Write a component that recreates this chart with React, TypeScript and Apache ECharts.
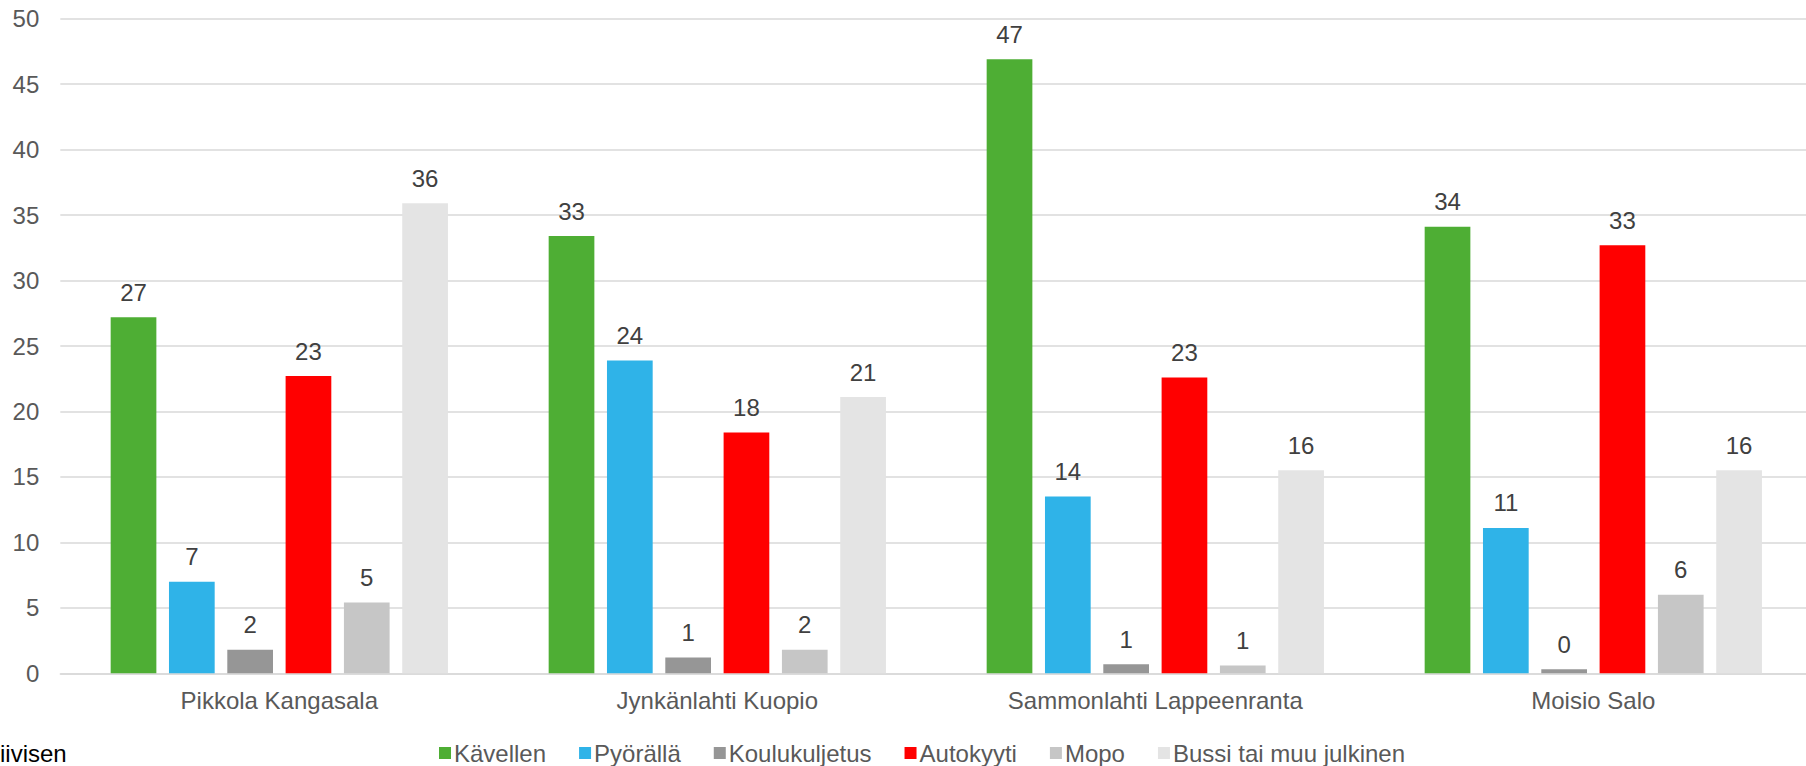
import React, { useEffect, useRef } from "react";
import * as echarts from "echarts";

const categories = ["Pikkola Kangasala", "Jynkänlahti Kuopio", "Sammonlahti Lappeenranta", "Moisio Salo"];
const seriesNames = ["Kävellen", "Pyörällä", "Koulukuljetus", "Autokyyti", "Mopo", "Bussi tai muu julkinen"];
const kavellen = [27.2, 33.4, 46.9, 34.1];
const pyoralla = [7.0, 23.9, 13.5, 11.1];
const koulukuljetus = [1.8, 1.2, 0.7, 0.3];
const autokyyti = [22.7, 18.4, 22.6, 32.7];
const mopo = [5.4, 1.8, 0.6, 6.0];
const bussi = [35.9, 21.1, 15.5, 15.5];
const yTicks = { min: 0, max: 50, interval: 5 };
const colors = ["#4EAE34", "#2FB3E8", "#969696", "#FF0000", "#C6C6C6", "#E4E4E4"];
const footnote = "iivisen";

const FONT = "'Liberation Sans', Arial, sans-serif";

export default function App() {
  const ref = useRef<HTMLDivElement>(null);
  useEffect(() => {
    if (!ref.current) return;
    const chart = echarts.init(ref.current, null, { renderer: "svg" });
    const values = [kavellen, pyoralla, koulukuljetus, autokyyti, mopo, bussi];
    chart.setOption({
      animation: false,
      backgroundColor: "#ffffff",
      textStyle: { fontFamily: FONT },
      grid: { left: 60.3, top: 18.7, right: 0.7, height: 654.6, containLabel: false },
      legend: {
        top: 741,
        left: 439,
        padding: 0,
        itemWidth: 12,
        itemHeight: 12,
        itemGap: 33,
        icon: "rect",
        textStyle: { color: "#595959", fontSize: 24, fontFamily: FONT, padding: [0, 0, 0, -2] },
        data: seriesNames,
      },
      xAxis: {
        type: "category",
        data: categories,
        axisLine: { lineStyle: { color: "#d9d9d9", width: 1.5 } },
        axisTick: { show: false },
        axisLabel: { color: "#595959", fontSize: 24, fontFamily: FONT, margin: 15 },
      },
      yAxis: {
        type: "value",
        min: yTicks.min,
        max: yTicks.max,
        interval: yTicks.interval,
        axisLine: { show: false },
        axisTick: { show: false },
        splitLine: { lineStyle: { color: "#d9d9d9", width: 1.5 } },
        axisLabel: { color: "#595959", fontSize: 24, fontFamily: FONT, margin: 21 },
      },
      graphic: [
        {
          type: "text",
          left: 0,
          top: 741,
          style: { text: footnote, fill: "#000000", fontSize: 24, fontFamily: FONT },
        },
      ],
      series: seriesNames.map((name, i) => ({
        name,
        type: "bar",
        data: values[i],
        barWidth: 45.7,
        barGap: "27.6%",
        itemStyle: { color: colors[i] },
        label: {
          show: true,
          position: "top",
          distance: 13,
          color: "#404040",
          fontSize: 24,
          fontFamily: FONT,
          formatter: (p: any) => String(Math.round(p.value)),
        },
      })),
    });
    return () => chart.dispose();
  }, []);
  return (
    <div
      ref={ref}
      style={{ position: "fixed", left: 0, top: 0, width: 1813, height: 766, background: "#fff" }}
    />
  );
}
